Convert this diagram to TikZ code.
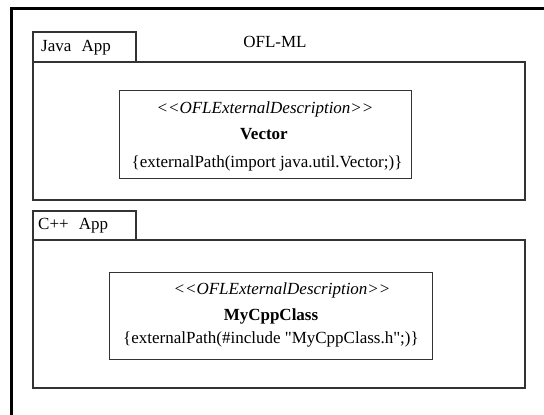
\documentclass[tikz,border=0pt]{standalone}
\usepackage{fontspec}
\setmainfont{Liberation Serif}
\begin{document}
\begin{tikzpicture}[x=1pt,y=-1pt,
  frameline/.style={line width=3pt,black},
  pkg/.style={draw=black!80,line width=1.1pt},
  cls/.style={draw=black!80,line width=1.1pt},
  txt/.style={inner sep=0pt,anchor=center,font=\fontsize{17}{19}\selectfont}]
\useasboundingbox (0,0) rectangle (544,415);
% outer frame (top and left visible)
\draw[frameline] (544,8) -- (11,8) -- (11,415);
\node[txt] (title) at (275,42) {OFL-ML};
% Java package
\draw[pkg] (33,32) rectangle (136,62);
\node[txt,anchor=west] (javatab) at (41,48) {Java\hspace{0.6em}App};
\draw[pkg] (33,62) rectangle (525,200);
\node[cls,minimum width=292pt,minimum height=88pt,anchor=north west,inner sep=0pt] (vec) at (119,90) {};
\node[txt] (vs) at (265,109) {\itshape {<}{<}OFLExternalDescription{>}{>}};
\node[txt] (vn) at (264,134) {\bfseries Vector};
\node[txt] (vp) at (267,163) {\{externalPath(import java.util.Vector;)\}};
% C++ package
\draw[pkg] (33,211) rectangle (136,240);
\node[txt,anchor=west] (cpptab) at (38,226) {C++\hspace{0.6em}App};
\draw[pkg] (33,240) rectangle (525,388);
\node[cls,minimum width=323pt,minimum height=87pt,anchor=north west,inner sep=0pt] (cpp) at (109,272) {};
\node[txt] (cs) at (282,290) {\itshape {<}{<}OFLExternalDescription{>}{>}};
\node[txt] (cn) at (271,316) {\bfseries MyCppClass};
\node[txt] (cp) at (271,339) {\{externalPath(\#include \textquotedbl MyCppClass.h\textquotedbl;)\}};
\end{tikzpicture}
\end{document}
